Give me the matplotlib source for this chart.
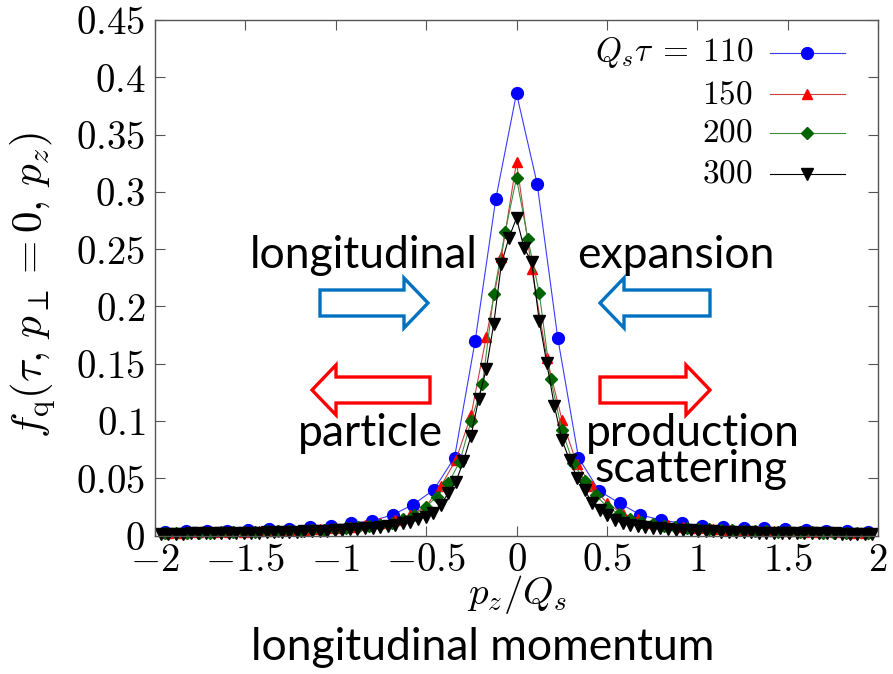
import numpy as np
import matplotlib
matplotlib.use('Agg')
import matplotlib.pyplot as plt
from matplotlib.patches import FancyArrow
from matplotlib.transforms import Affine2D

plt.rcParams['mathtext.fontset'] = 'cm'
plt.rcParams['font.family'] = ['DejaVu Serif']

# lattice step in p_z/Q_s for each time
taus = ['110', '150', '200', '300']
steps = [0.1143, 0.0838, 0.0628, 0.0419]

# f_q values, left to right (most negative p_z first)
f_110 = [0.0033, 0.004, 0.004, 0.004, 0.005, 0.0057, 0.0057, 0.0077, 0.0086,
         0.0107, 0.0127, 0.018, 0.027, 0.040, 0.068, 0.170, 0.294,
         0.386,
         0.307, 0.172, 0.068, 0.039, 0.028, 0.018, 0.0135, 0.0107, 0.0086,
         0.0077, 0.0068, 0.0063, 0.0054, 0.0048, 0.0042, 0.0042, 0.0033]

f_150 = [0.0025, 0.0026, 0.0028, 0.003, 0.0032, 0.0034, 0.0037, 0.004,
         0.0044, 0.005, 0.0057, 0.0064, 0.0075, 0.0088, 0.0105, 0.0135,
         0.018, 0.025, 0.043, 0.066, 0.105, 0.173, 0.243,
         0.326,
         0.233, 0.155, 0.101, 0.062, 0.043, 0.028, 0.019, 0.014, 0.011,
         0.009, 0.0078, 0.0066, 0.0058, 0.0052, 0.0046, 0.0042, 0.0038,
         0.0035, 0.0032, 0.003, 0.0028, 0.0026, 0.0025]

f_200 = [0.0022, 0.0023, 0.0024, 0.0025, 0.0026, 0.0028, 0.003, 0.0031,
         0.0033, 0.0035, 0.0037, 0.004, 0.0043, 0.0047, 0.0052, 0.0058,
         0.0065, 0.0073, 0.0083, 0.0096, 0.0113, 0.014, 0.018, 0.025,
         0.034, 0.0456, 0.0645, 0.100, 0.132, 0.211, 0.265,
         0.312,
         0.259, 0.212, 0.137, 0.092, 0.063, 0.048, 0.035, 0.025, 0.019,
         0.0145, 0.0115, 0.0097, 0.0084, 0.0074, 0.0066, 0.0059, 0.0053,
         0.0048, 0.0044, 0.004, 0.0037, 0.0035, 0.0033, 0.0031, 0.003,
         0.0028, 0.0026, 0.0025, 0.0024, 0.0023, 0.0022]

f_300 = [0.0015, 0.0016, 0.0016, 0.0017, 0.0018, 0.0018, 0.0019, 0.002,
         0.0021, 0.0022, 0.0023, 0.0024, 0.0025, 0.0026, 0.0027, 0.0029,
         0.003, 0.0032, 0.0034, 0.0036, 0.0038, 0.004, 0.0043, 0.0046,
         0.0049, 0.0053, 0.0057, 0.0062, 0.0068, 0.0075, 0.0083, 0.0093,
         0.0105, 0.012, 0.014, 0.0165, 0.02, 0.027, 0.037, 0.047, 0.065,
         0.087, 0.119, 0.145, 0.185, 0.237, 0.260,
         0.277,
         0.251, 0.239, 0.1875, 0.1505, 0.113, 0.0835, 0.066, 0.0505, 0.040,
         0.028, 0.022, 0.018, 0.0135, 0.0107, 0.0095, 0.0085, 0.0076,
         0.0069, 0.0062, 0.0057, 0.0052, 0.0048, 0.0045, 0.0042, 0.0039,
         0.0036, 0.0034, 0.0032, 0.003, 0.0029, 0.0027, 0.0026, 0.0025,
         0.0024, 0.0023, 0.0022, 0.0021, 0.002, 0.002, 0.0019, 0.0018,
         0.0018, 0.0017, 0.0016, 0.0016, 0.0015, 0.0015]

series = [f_110, f_150, f_200, f_300]

x_ticks = [-2, -1.5, -1, -0.5, 0, 0.5, 1, 1.5, 2]
x_tick_labels = ['-2', '-1.5', '-1', '-0.5', '0', '0.5', '1', '1.5', '2']
y_ticks = [0, 0.05, 0.1, 0.15, 0.2, 0.25, 0.3, 0.35, 0.4, 0.45]
y_tick_labels = ['0', '0.05', '0.1', '0.15', '0.2', '0.25', '0.3', '0.35', '0.4', '0.45']

W, H = 893, 674
fig = plt.figure(figsize=(W / 100, H / 100), dpi=100)
ax = fig.add_axes([155 / W, 1 - 535.5 / H, 723 / W, 515.5 / H])

# reference-pixel coordinates -> figure
pix = Affine2D().scale(1 / W, -1 / H).translate(0, 1) + fig.transFigure

styles = [
    dict(color='#3a3aff', marker='o', mfc='#0000ff', mec='#0000ff', ms=8.5),
    dict(color='#c84040', marker='^', mfc='#ff0000', mec='#ff0000', ms=7.5),
    dict(color='#3f8f3f', marker='D', mfc='#006400', mec='#006400', ms=6),
    dict(color='#000000', marker='v', mfc='#000000', mec='#000000', ms=8),
]

for f, dp, st in zip(series, steps, styles):
    n = (len(f) - 1) // 2
    x = np.arange(-n, n + 1) * dp
    ax.plot(x, f, lw=0.8, clip_on=False, **st)

ax.set_xlim(-2, 2)
ax.set_ylim(0, 0.45)
ax.set_xticks(x_ticks)
ax.set_xticklabels(['$' + s + '$' for s in x_tick_labels])
ax.set_yticks(y_ticks)
ax.set_yticklabels(['$' + s + '$' for s in y_tick_labels])
ax.tick_params(direction='in', top=True, right=True, length=7, width=0.8,
               labelsize=28, color='#555555')
ax.tick_params(axis='x', pad=5)
ax.tick_params(axis='y', pad=7)
for sp in ax.spines.values():
    sp.set_color('#555555')
    sp.set_linewidth(1.0)

# axis labels
fig.text(517 / W, 1 - 594 / H, r'$p_z/Q_s$', ha='center', va='center', fontsize=28)
fig.text(33 / W, 1 - 285 / H, r'$f_{\rm q}(\tau,\, p_\perp = 0,\, p_z)$',
         ha='center', va='center', rotation=90, fontsize=31)

# legend drawn by hand: labels right-aligned, sample line after label
leg_rows = [53, 94, 133, 174]
leg_text = [r'$Q_s\tau\;=\;110$', '$150$', '$200$', '$300$']
for row, lab, st in zip(leg_rows, leg_text, styles):
    fig.text(753 / W, 1 - row / H, lab, ha='right', va='center', fontsize=24)
    ax.plot([770, 845], [row, row], transform=pix, lw=0.8, clip_on=False,
            color=st['color'])
    ax.plot([807], [row], transform=pix, clip_on=False, ls='none',
            marker=st['marker'], mfc=st['mfc'], mec=st['mec'], ms=st['ms'])

# outlined block arrows
blue = '#0070c0'
red = '#ff0000'
arrows = [
    (320, 303, 108, blue),
    (710, 303, -110, blue),
    (430, 390, -118, red),
    (600, 390, 110, red),
]
for x0, y0, dx, c in arrows:
    a = FancyArrow(x0, y0, dx, 0, width=26, head_width=50, head_length=24,
                   length_includes_head=True, transform=pix,
                   facecolor='white', edgecolor=c, lw=2.4)
    fig.add_artist(a)

notes = [
    ('longitudinal', 364, 256),
    ('expansion', 676, 256),
    ('particle', 370, 433),
    ('production', 693, 434),
    ('scattering', 691, 469),
    ('longitudinal momentum', 483, 648),
]
for s, px, py in notes:
    fig.text(px / W, 1 - py / H, s, ha='center', va='center',
             fontsize=32, family='Lato')

fig.savefig('out.png', dpi=100)
